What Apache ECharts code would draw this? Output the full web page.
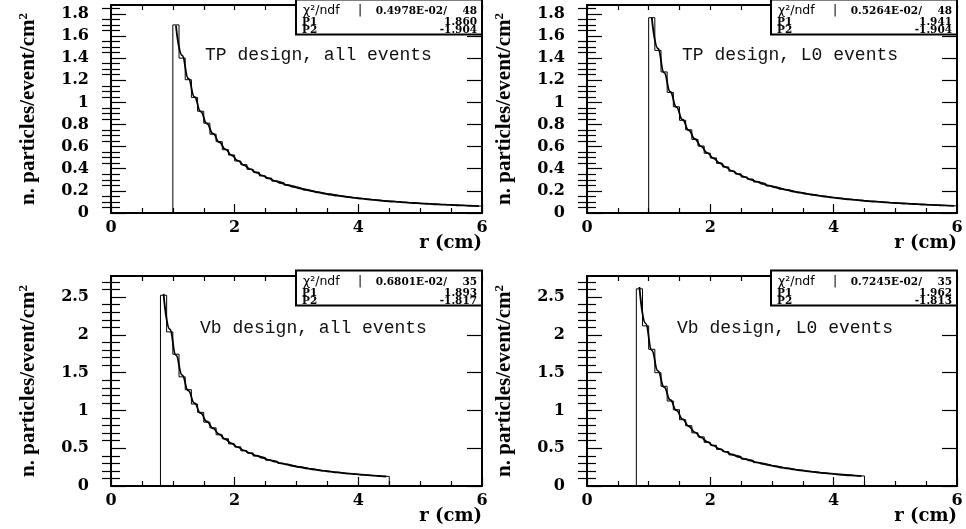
<!DOCTYPE html>
<html>
<head>
<meta charset="utf-8">
<script src="https://cdn.jsdelivr.net/npm/echarts@6/dist/echarts.min.js"></script>
<style>
html,body{margin:0;padding:0;background:#fff;}
#chart{width:966px;height:529px;}
</style>
</head>
<body>
<div id="chart"></div>
<script>
// ---------- data ----------
const binWidth = 0.1;
const tpFirstEdge = 1.0;   // TP histograms start at r = 1.0 cm
const vbFirstEdge = 0.8;   // Vb histograms start at r = 0.8 cm

const titles = ['TP design, all events', 'TP design, L0 events', 'Vb design, all events', 'Vb design, L0 events'];
const chi2Text = ['0.4978E-02/', '0.5264E-02/', '0.6801E-02/', '0.7245E-02/'];
const ndfText = ['48', '48', '35', '35'];
const p1Text = ['1.860', '1.941', '1.893', '1.962'];
const p2Text = ['-1.904', '-1.904', '-1.817', '-1.813'];

const xTickLabels = [0, 2, 4, 6];
const yLabelsTP = [0, 0.2, 0.4, 0.6, 0.8, 1, 1.2, 1.4, 1.6, 1.8];
const yLabelsVb = [0, 0.5, 1, 1.5, 2, 2.5];

// histogram contents (per bin)
const histTPall = [1.700, 1.400, 1.205, 1.045, 0.920, 0.812, 0.712, 0.645, 0.572, 0.524,
  0.470, 0.436, 0.395, 0.368, 0.335, 0.315, 0.288, 0.273, 0.251, 0.239,
  0.221, 0.211, 0.196, 0.187, 0.175, 0.168, 0.157, 0.151, 0.142, 0.137,
  0.129, 0.124, 0.118, 0.113, 0.108, 0.104, 0.099, 0.096, 0.092, 0.088,
  0.085, 0.082, 0.079, 0.076, 0.074, 0.071, 0.069, 0.066, 0.064, 0.062];
const histTPL0 = [1.765, 1.470, 1.275, 1.090, 0.960, 0.838, 0.752, 0.665, 0.605, 0.540,
  0.497, 0.449, 0.416, 0.378, 0.354, 0.325, 0.305, 0.281, 0.266, 0.245,
  0.233, 0.216, 0.207, 0.192, 0.185, 0.172, 0.166, 0.155, 0.150, 0.140,
  0.136, 0.128, 0.124, 0.117, 0.113, 0.107, 0.104, 0.099, 0.096, 0.091,
  0.089, 0.085, 0.083, 0.079, 0.077, 0.073, 0.072, 0.068, 0.067, 0.064];
const histVbAll = [2.525, 2.040, 1.745, 1.445, 1.275, 1.085, 0.975, 0.845, 0.770, 0.678,
  0.625, 0.557, 0.518, 0.466, 0.437, 0.397, 0.375, 0.342, 0.325, 0.298,
  0.284, 0.262, 0.252, 0.233, 0.224, 0.208, 0.201, 0.187, 0.181, 0.169,
  0.164, 0.154, 0.150, 0.141, 0.138, 0.129, 0.127];
const histVbL0 = [2.610, 2.120, 1.810, 1.500, 1.320, 1.125, 1.010, 0.878, 0.798, 0.703,
  0.650, 0.578, 0.539, 0.485, 0.455, 0.412, 0.390, 0.356, 0.338, 0.310,
  0.297, 0.273, 0.262, 0.242, 0.234, 0.216, 0.210, 0.195, 0.190, 0.176,
  0.172, 0.160, 0.157, 0.147, 0.144, 0.135, 0.132];

// fitted curve, read at bin centres
const fitTPall = [1.695, 1.425, 1.216, 1.050, 0.917, 0.808, 0.717, 0.641, 0.577, 0.522,
  0.474, 0.433, 0.397, 0.366, 0.338, 0.313, 0.291, 0.271, 0.253, 0.237,
  0.223, 0.209, 0.197, 0.186, 0.176, 0.167, 0.158, 0.150, 0.143, 0.136,
  0.130, 0.124, 0.118, 0.113, 0.108, 0.104, 0.100, 0.096, 0.092, 0.089,
  0.085, 0.082, 0.079, 0.076, 0.074, 0.071, 0.069, 0.067, 0.064, 0.062];
const fitTPL0 = [1.769, 1.487, 1.269, 1.096, 0.957, 0.843, 0.748, 0.669, 0.602, 0.544,
  0.495, 0.452, 0.414, 0.381, 0.352, 0.327, 0.303, 0.283, 0.264, 0.247,
  0.232, 0.218, 0.206, 0.194, 0.184, 0.174, 0.165, 0.157, 0.149, 0.142,
  0.135, 0.129, 0.123, 0.118, 0.113, 0.108, 0.104, 0.100, 0.096, 0.092,
  0.089, 0.086, 0.083, 0.080, 0.077, 0.074, 0.072, 0.069, 0.067, 0.065];
const fitVbAll = [2.543, 2.078, 1.732, 1.469, 1.262, 1.097, 0.964, 0.854, 0.762, 0.685,
  0.619, 0.563, 0.514, 0.471, 0.434, 0.401, 0.372, 0.346, 0.322, 0.301,
  0.282, 0.265, 0.250, 0.235, 0.222, 0.210, 0.200, 0.189, 0.180, 0.171,
  0.163, 0.156, 0.149, 0.143, 0.137, 0.131, 0.126];
const fitVbL0 = [2.634, 2.153, 1.796, 1.523, 1.309, 1.139, 1.000, 0.886, 0.791, 0.711,
  0.643, 0.585, 0.534, 0.490, 0.451, 0.417, 0.387, 0.360, 0.335, 0.314,
  0.294, 0.276, 0.260, 0.245, 0.232, 0.219, 0.208, 0.197, 0.188, 0.179,
  0.170, 0.163, 0.155, 0.149, 0.142, 0.137, 0.131];

// ---------- layout ----------
const grids = [
  {left: 111, top: 5, width: 371, height: 208},
  {left: 587, top: 5, width: 370, height: 208},
  {left: 111, top: 276, width: 371, height: 210},
  {left: 587, top: 276, width: 370, height: 210}
];
const yMax = [1.88, 1.88, 2.78, 2.78];
const yLabels = [yLabelsTP, yLabelsTP, yLabelsVb, yLabelsVb];
const yMinorStep = [0.05, 0.05, 0.1, 0.1];
const yMajorStep = [0.2, 0.2, 0.5, 0.5];
const hists = [histTPall, histTPL0, histVbAll, histVbL0];
const fits = [fitTPall, fitTPL0, fitVbAll, fitVbL0];
const firstEdges = [tpFirstEdge, tpFirstEdge, vbFirstEdge, vbFirstEdge];

function r2(v) { return Math.round(v * 1000) / 1000; }
function minorTicks(step, major, max) {
  const out = [];
  for (let k = 1; k * step < max - 1e-9; k++) {
    const v = r2(k * step);
    if (Math.abs(v / major - Math.round(v / major)) > 1e-6) out.push(v);
  }
  return out;
}
function histPoints(lo, vals) {
  const pts = [[lo, 0]];
  vals.forEach((v, i) => pts.push([r2(lo + i * binWidth), v]));
  const end = r2(lo + vals.length * binWidth);
  pts.push([end, vals[vals.length - 1]]);
  pts.push([end, 0]);
  return pts;
}
function fitPoints(lo, vals) {
  return vals.map((v, i) => [r2(lo + (i + 0.5) * binWidth), v]);
}

const numFont = {fontFamily: 'DejaVu Serif', fontWeight: 'bold', fontSize: 16, color: '#000'};
const black = '#000';

const xAxes = [], yAxes = [], series = [], graphics = [];
grids.forEach((g, p) => {
  const right = g.left + g.width;
  // bottom x axis
  xAxes.push({
    gridIndex: p, type: 'value', position: 'bottom', min: 0, max: 6, interval: 2,
    axisLine: {show: true, onZero: false, lineStyle: {color: black, width: 2}},
    axisTick: {show: true, inside: true, length: 9, lineStyle: {color: black, width: 1.2}},
    minorTick: {show: true, splitNumber: 4, length: 5, lineStyle: {color: black, width: 1.2}},
    splitLine: {show: false}, minorSplitLine: {show: false},
    axisLabel: Object.assign({margin: 7, customValues: xTickLabels}, numFont),
    name: 'r (cm)', nameLocation: 'end', nameGap: 0, nameMoveOverlap: false,
    nameTextStyle: {fontFamily: 'DejaVu Serif', fontWeight: 'bold', fontSize: 18, color: black,
      align: 'right', verticalAlign: 'top', padding: [21, 0, 0, 0]}
  });
  // top x axis (ticks only)
  xAxes.push({
    gridIndex: p, type: 'value', position: 'top', min: 0, max: 6, interval: 0.5,
    axisLine: {show: true, onZero: false, lineStyle: {color: black, width: 2}},
    axisTick: {show: true, inside: true, length: 5, lineStyle: {color: black, width: 1.2}},
    axisLabel: {show: false}, splitLine: {show: false}
  });
  const minors = minorTicks(yMinorStep[p], yMajorStep[p], yMax[p]);
  const yBase = {gridIndex: p, type: 'value', min: 0, max: yMax[p], splitLine: {show: false}};
  // left labelled axis
  yAxes.push(Object.assign({}, yBase, {
    position: 'left',
    axisLine: {show: true, onZero: false, lineStyle: {color: black, width: 2}},
    axisTick: {show: true, inside: true, length: 15, customValues: yLabels[p], lineStyle: {color: black, width: 1.2}},
    axisLabel: Object.assign({margin: 22, customValues: yLabels[p]}, numFont),
    name: '{a|n. particles/event/cm}{s|2}', nameLocation: 'middle', nameGap: 70, nameMoveOverlap: false,
    nameTextStyle: {
      rich: {
        a: {fontFamily: 'Liberation Serif', fontWeight: 'bold', fontSize: 21, color: black, lineHeight: 24},
        s: {fontFamily: 'Liberation Serif', fontWeight: 'bold', fontSize: 13, color: black, verticalAlign: 'top', lineHeight: 24}
      }
    }
  }));
  // left minor ticks
  yAxes.push(Object.assign({}, yBase, {
    position: 'left', axisLine: {show: false},
    axisTick: {show: true, inside: true, length: 9, customValues: minors, lineStyle: {color: black, width: 1.2}},
    axisLabel: {show: false}
  }));
  // right major ticks
  yAxes.push(Object.assign({}, yBase, {
    position: 'right',
    axisLine: {show: true, onZero: false, lineStyle: {color: black, width: 2}},
    axisTick: {show: true, inside: true, length: 15, customValues: yLabels[p], lineStyle: {color: black, width: 1.2}},
    axisLabel: {show: false}
  }));
  // right minor ticks
  yAxes.push(Object.assign({}, yBase, {
    position: 'right', axisLine: {show: false},
    axisTick: {show: true, inside: true, length: 9, customValues: minors, lineStyle: {color: black, width: 1.2}},
    axisLabel: {show: false}
  }));

  series.push({
    type: 'line', xAxisIndex: 2 * p, yAxisIndex: 4 * p, step: 'end', symbol: 'none',
    data: histPoints(firstEdges[p], hists[p]),
    lineStyle: {color: black, width: 1}, z: 3
  });
  series.push({
    type: 'line', xAxisIndex: 2 * p, yAxisIndex: 4 * p, smooth: true, smoothMonotone: 'x', symbol: 'none',
    data: fitPoints(firstEdges[p], fits[p]),
    lineStyle: {color: black, width: 1.8}, z: 4
  });

  // title inside the frame
  graphics.push({
    type: 'text', left: g.left + (p % 2 === 0 ? 94 : 95) - (p >= 2 ? 5 : 0), top: g.top + (p >= 2 ? 43 : 41),
    style: {text: titles[p], fontFamily: 'Liberation Mono', fontSize: 18, fill: '#111'}
  });

  // statistics box
  const bx = right - 186, by = g.top - 5.5, bw = 186, bh = 35;
  graphics.push({type: 'rect', shape: {x: bx, y: by, width: bw, height: bh},
    style: {fill: '#fff', stroke: black, lineWidth: 2}, z: 20});
  const statSmall = {fontFamily: 'DejaVu Sans', fontSize: 12.5, fill: black};
  const statBold = {fontFamily: 'DejaVu Serif', fontWeight: 'bold', fontSize: 10.5, fill: black};
  const rows = [by + 11.5, by + 22.5, by + 31];
  graphics.push({type: 'text', x: bx + 7, y: rows[0], z: 21,
    style: Object.assign({text: 'χ²/ndf', verticalAlign: 'middle'}, statSmall)});
  graphics.push({type: 'text', x: bx + 62, y: rows[0], z: 21,
    style: Object.assign({text: '|', verticalAlign: 'middle'}, statSmall)});
  graphics.push({type: 'text', x: bx + 151, y: rows[0], z: 21,
    style: Object.assign({text: chi2Text[p], align: 'right', verticalAlign: 'middle'}, statBold)});
  graphics.push({type: 'text', x: right - 5, y: rows[0], z: 21,
    style: Object.assign({text: ndfText[p], align: 'right', verticalAlign: 'middle'}, statBold)});
  graphics.push({type: 'text', x: bx + 6, y: rows[1], z: 21,
    style: Object.assign({text: 'P1', verticalAlign: 'middle'}, statBold)});
  graphics.push({type: 'text', x: right - 5, y: rows[1], z: 21,
    style: Object.assign({text: p1Text[p], align: 'right', verticalAlign: 'middle'}, statBold)});
  graphics.push({type: 'text', x: bx + 6, y: rows[2], z: 21,
    style: Object.assign({text: 'P2', verticalAlign: 'middle'}, statBold)});
  graphics.push({type: 'text', x: right - 5, y: rows[2], z: 21,
    style: Object.assign({text: p2Text[p], align: 'right', verticalAlign: 'middle'}, statBold)});
});

const chart = echarts.init(document.getElementById('chart'), null, {renderer: 'canvas'});
chart.setOption({
  backgroundColor: '#fff',
  animation: false,
  grid: grids.map(g => Object.assign({show: false, containLabel: false, outerBoundsMode: 'none'}, g)),
  xAxis: xAxes,
  yAxis: yAxes,
  series: series,
  graphic: graphics
});
</script>
</body>
</html>
